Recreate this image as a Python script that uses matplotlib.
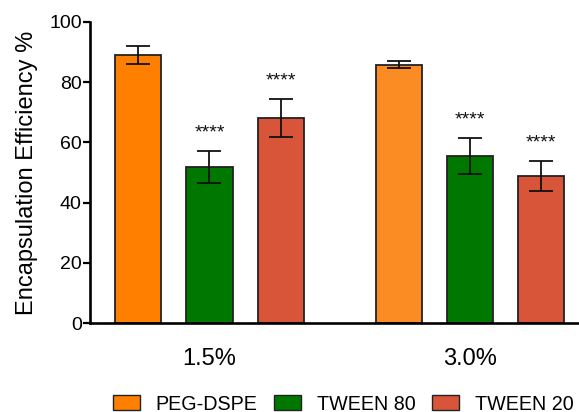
import matplotlib
matplotlib.use("Agg")
import matplotlib.pyplot as plt
import numpy as np
from matplotlib.patches import Patch

plt.rcParams['font.family'] = ['Liberation Sans', 'DejaVu Sans']

groups = ['1.5%', '3.0%']
series = ['PEG-DSPE', 'TWEEN 80', 'TWEEN 20']
means = {
    'PEG-DSPE': [89.0, 85.8],
    'TWEEN 80': [51.8, 55.5],
    'TWEEN 20': [68.0, 48.8],
}
errs = {
    'PEG-DSPE': [3.0, 1.2],
    'TWEEN 80': [5.4, 5.9],
    'TWEEN 20': [6.3, 5.0],
}
stars = {
    'PEG-DSPE': ['', ''],
    'TWEEN 80': ['****', '****'],
    'TWEEN 20': ['****', '****'],
}
colors = {
    'PEG-DSPE': ['#FF8000', '#FB8C24'],
    'TWEEN 80': ['#007800', '#007800'],
    'TWEEN 20': ['#D9553A', '#D9553A'],
}
yticks = [0, 20, 40, 60, 80, 100]

fig = plt.figure(figsize=(5.79, 4.12), dpi=100)
ax = fig.add_axes([90/579, (412-323)/412, 1-90/579, (323-22)/412])

group_centers = np.array([1.0, 4.658])
width = 0.65
for gi, gc in enumerate(group_centers):
    for si, s in enumerate(series):
        x = gc + (si - 1)
        ax.bar(x, means[s][gi], width=width, color=colors[s][gi],
               edgecolor='#222222', linewidth=1.3, zorder=2)
        ax.errorbar(x, means[s][gi], yerr=errs[s][gi], fmt='none',
                    ecolor='#111111', elinewidth=1.3, capsize=8.8,
                    capthick=1.3, zorder=3)
        if stars[s][gi]:
            ax.text(x, means[s][gi] + errs[s][gi] + 4.6, stars[s][gi],
                    ha='center', va='baseline', fontsize=14, color='#111111')

ax.set_xlim(-0.679, 6.192)
ax.set_ylim(0, 100)
ax.set_yticks(yticks)
ax.set_xticks(group_centers)
ax.set_xticklabels(groups, fontsize=17)
ax.tick_params(axis='x', length=0, pad=18)
ax.tick_params(axis='y', length=5, width=1.6, labelsize=14, pad=1)
for sp in ['top', 'right']:
    ax.spines[sp].set_visible(False)
for sp in ['left', 'bottom']:
    ax.spines[sp].set_linewidth(1.9)
ax.set_ylabel('Encapsulation Efficiency %', fontsize=17, labelpad=8)

handles = [Patch(facecolor=colors[s][0], edgecolor='#222222', linewidth=1.0) for s in series]
fig.legend(handles, series, loc='center left', bbox_to_anchor=(112.7/579, 8/412),
           ncol=3, frameon=False, fontsize=14.2, handlelength=1.36,
           handleheight=0.76, handletextpad=0.8, columnspacing=0.86,
           borderaxespad=0, borderpad=0)

fig.savefig('out.png', dpi=100)
